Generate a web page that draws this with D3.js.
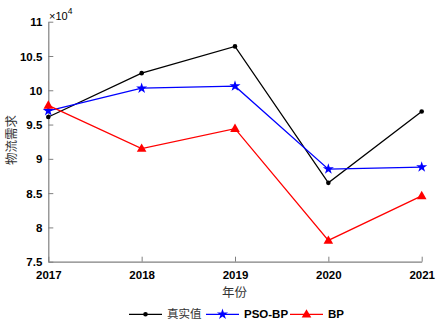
<!DOCTYPE html>
<html><head><meta charset="utf-8">
<script src="https://cdn.jsdelivr.net/npm/d3@7"></script>
<style>body{margin:0;background:#fff}svg{display:block}</style>
</head><body>
<script>
const years = [2017, 2018, 2019, 2020, 2021];
const actual = [9.61, 10.25, 10.64, 8.65, 9.69];
const psoBP = [9.70, 10.03, 10.06, 8.85, 8.88];
const bp = [9.78, 9.15, 9.44, 7.81, 8.46];
const yTicks = [7.5, 8, 8.5, 9, 9.5, 10, 10.5, 11];
const seriesNames = ["真实值", "PSO-BP", "BP"];
const seriesColors = ["#000000", "#0000ff", "#ff0000"];
const seriesData = [actual, psoBP, bp];

const W = 437, H = 324;
const svg = d3.select("body").append("svg").attr("width", W).attr("height", H);
const x = d3.scaleLinear().domain([2017, 2021]).range([48.3, 421.7]);
const y = d3.scaleLinear().domain([7.5, 11]).range([261.7, 21.7]);
const axisColor = "#808080";
const tickFont = "bold 11.5px 'Liberation Sans', Arial, sans-serif";

// axes
const gx = svg.append("g").attr("transform", `translate(0,${y(7.5)})`)
  .call(d3.axisBottom(x).tickValues(years).tickFormat(d3.format("d")).tickSizeInner(-5).tickSizeOuter(0).tickPadding(9));
const gy = svg.append("g").attr("transform", `translate(${x(2017)},0)`)
  .call(d3.axisLeft(y).tickValues(yTicks).tickFormat(d => d3.format("")(d)).tickSizeInner(-5).tickSizeOuter(0).tickPadding(6));
[gx, gy].forEach(g => {
  g.select(".domain").attr("stroke", axisColor).attr("stroke-width", 1.2);
  g.selectAll(".tick line").attr("stroke", axisColor).attr("stroke-width", 1);
  g.selectAll(".tick text").attr("fill", "#000").style("font", tickFont);
});
gy.selectAll(".tick text").attr("dy", "0.35em");

// exponent
const ex = svg.append("text").attr("x", 49).attr("y", 19.5)
  .style("font", "11px 'Liberation Sans', Arial, sans-serif").attr("fill", "#000");
ex.append("tspan").text("×10");
ex.append("tspan").attr("dy", -6).style("font-size", "8.5px").text("4");

// axis labels
svg.append("text").attr("x", 234.5).attr("y", 297).attr("text-anchor", "middle")
  .style("font", "12.5px 'Noto Sans CJK SC', sans-serif").attr("fill", "#333").text("年份");
svg.append("text").attr("transform", `translate(15.5,140) rotate(-90)`)
  .attr("text-anchor", "middle")
  .style("font", "12.5px 'Noto Sans CJK SC', sans-serif").attr("fill", "#333").text("物流需求");

const line = d3.line().x((d, i) => x(years[i])).y(d => y(d));
const star = d3.symbol().type(d3.symbolStar).size(38);
const tri = d3.symbol().type(d3.symbolTriangle).size(40);

function drawMarker(g, k, cx, cy) {
  if (k === 0) g.append("circle").attr("cx", cx).attr("cy", cy).attr("r", 2.3).attr("fill", seriesColors[k]);
  else if (k === 1) g.append("path").attr("d", star()).attr("transform", `translate(${cx},${cy})`).attr("fill", seriesColors[k]);
  else g.append("path").attr("d", tri()).attr("transform", `translate(${cx},${cy+0.5})`).attr("fill", seriesColors[k]);
}

seriesData.forEach((data, k) => {
  const g = svg.append("g");
  g.append("path").datum(data).attr("d", line).attr("fill", "none")
    .attr("stroke", seriesColors[k]).attr("stroke-width", 1.3);
  data.forEach((v, i) => drawMarker(g, k, x(years[i]), y(v)));
});

// legend
const legY = 314.3;
const legItems = [{x0: 129, x1: 162, tx: 167}, {x0: 206, x1: 239, tx: 244}, {x0: 290, x1: 323, tx: 328}];
legItems.forEach((it, k) => {
  const g = svg.append("g");
  g.append("line").attr("x1", it.x0).attr("x2", it.x1).attr("y1", legY).attr("y2", legY)
    .attr("stroke", seriesColors[k]).attr("stroke-width", 1.3);
  drawMarker(g, k, (it.x0 + it.x1) / 2, legY);
  const t = g.append("text").attr("x", it.tx).attr("y", legY).attr("dy", "0.36em").attr("fill", "#000").text(seriesNames[k]);
  if (k === 0) t.style("font", "11.5px 'Noto Sans CJK SC', sans-serif").attr("fill", "#333");
  else t.style("font", tickFont);
});
</script>
</body></html>
